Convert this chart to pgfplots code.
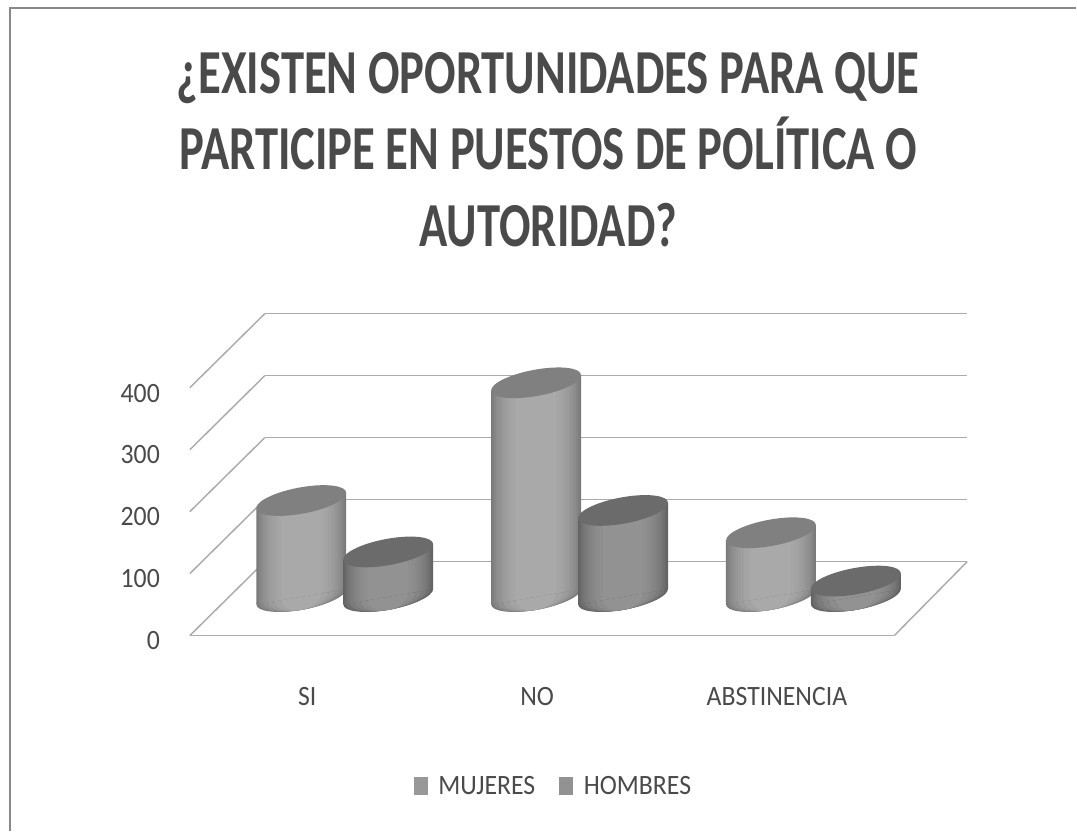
\documentclass[border=0pt]{standalone}
\usepackage{pgfplots}
\pgfplotsset{compat=1.18}
\usepackage{fontspec}
\setmainfont{Carlito}
\newfontfamily\titlefont[FakeStretch=0.745]{Carlito}
\newfontfamily\labfont[FakeStretch=0.92]{Carlito}
\definecolor{txt}{HTML}{4A4A4A}
\definecolor{gridc}{HTML}{ABABAB}
\definecolor{mEdge}{HTML}{7A7A7A}
\definecolor{mMid}{HTML}{A9A9A9}
\definecolor{mTop}{HTML}{808080}
\definecolor{hEdge}{HTML}{636363}
\definecolor{hMid}{HTML}{929292}
\definecolor{hTop}{HTML}{6B6B6B}
% 1 px = 0.75 pt; ellipses sheared with slope 0.17
\newcommand{\declell}[2]{\pgfdeclareplotmark{#1}{\pgfpathellipse{\pgfpointorigin}{\pgfpoint{#2pt}{0.17*#2pt}}{\pgfqpoint{0pt}{10pt}}\pgfusepathqfill}}
\declell{E90}{33.75}
\declell{E84}{31.5}
\declell{E76}{28.5}
\declell{E66}{24.75}
\declell{E54}{20.25}
\declell{E40}{15}
\pgfplotsset{cylpos/.style 2 args={xshift=#2*0.75pt,yshift=29.25pt,
    xshift={(#1+0.5)*176.25pt},yslant=0.17,xshift={-(#1+0.5)*176.25pt}},
  sqlegend/.style={legend image code/.code={\fill[##1] (0pt,-6.75pt) rectangle (10.5pt,6.75pt);}}}
% shade layers of a cylinder: category, value, offset px, prefix, width px, percent of mid colour
\newcommand{\layE}[6]{%
  \addplot[forget plot,only marks,mark=E#5,mark options={fill=#4Mid!#6!#4Edge,draw=none},xshift=#3*0.75pt,yshift=29.25pt] coordinates {(#1,0)};
}
\newcommand{\layB}[6]{%
  \addplot[forget plot,ybar,bar width=#5*0.75pt,bar shift=0pt,draw=none,fill=#4Mid!#6!#4Edge,cylpos={#1}{#3}] coordinates {(#1,#2)};
}
\newcommand{\cyl}[4]{%
  \layE{#1}{#2}{#3}{#4}{90}{0}
  \layE{#1}{#2}{#3}{#4}{84}{25}
  \layE{#1}{#2}{#3}{#4}{76}{50}
  \layE{#1}{#2}{#3}{#4}{66}{70}
  \layE{#1}{#2}{#3}{#4}{54}{88}
  \layE{#1}{#2}{#3}{#4}{40}{100}
  \layB{#1}{#2}{#3}{#4}{90}{0}
  \layB{#1}{#2}{#3}{#4}{87}{13}
  \layB{#1}{#2}{#3}{#4}{84}{25}
  \layB{#1}{#2}{#3}{#4}{80}{38}
  \layB{#1}{#2}{#3}{#4}{76}{50}
  \layB{#1}{#2}{#3}{#4}{71}{60}
  \layB{#1}{#2}{#3}{#4}{66}{70}
  \layB{#1}{#2}{#3}{#4}{60}{79}
  \layB{#1}{#2}{#3}{#4}{54}{88}
  \layB{#1}{#2}{#3}{#4}{47}{94}
  \layB{#1}{#2}{#3}{#4}{40}{100}
  \addplot[forget plot,only marks,mark=E90,mark options={fill=#4Top,draw=none},xshift=#3*0.75pt,yshift=29.25pt] coordinates {(#1,#2)};
}
\newcommand{\gl}[4]{\addplot[forget plot,gridc,line width=1.1pt] coordinates {(#1,#2)(#3,#4)};}
\begin{document}
\begin{tikzpicture}
\begin{axis}[
  scale only axis,width=583.5pt,height=240pt,
  xmin=-0.5,xmax=2.8106,ymin=0,ymax=516.13,
  clip=false,clip mode=individual,axis line style={draw=none},
  tick style={draw=none},
  xtick={0,1,2},xticklabels={SI,\kern-7.5pt NO,ABSTINENCIA},
  ytick={0,100,200,300,400},
  /pgf/number format/assume math mode=true,
  tick label style={font=\labfont\fontsize{21}{24}\selectfont,text=txt},
  xticklabel style={yshift=-35pt},
  yticklabel style={xshift=-19pt,yshift=-4pt},
  title={¿EXISTEN OPORTUNIDADES PARA QUE\\PARTICIPE EN PUESTOS DE POLÍTICA O\\AUTORIDAD?},
  title style={at={(rel axis cs:0.461,1.495)},anchor=center,align=center,text=txt,
    font=\titlefont\fontsize{47}{57.5}\selectfont\bfseries},
  legend columns=2,
  legend style={at={(rel axis cs:0.468,-0.472)},anchor=center,draw=none,fill=none,
    font=\labfont\fontsize{21}{24}\selectfont,text=txt,
    /tikz/every even column/.append style={column sep=16pt}},
  legend cell align=left,
]
% floor and walls
\gl{-0.5}{0}{2.5}{0}
\gl{2.5}{0}{2.8106}{119.4}
\gl{-0.5}{0}{-0.181}{119.4}
\gl{-0.5}{100}{-0.181}{219.4}
\gl{-0.5}{200}{-0.181}{319.4}
\gl{-0.5}{300}{-0.181}{419.4}
\gl{-0.5}{400}{-0.181}{519.4}
\gl{-0.181}{119.4}{2.8106}{119.4}
\gl{-0.181}{219.4}{2.8106}{219.4}
\gl{-0.181}{319.4}{2.8106}{319.4}
\gl{-0.181}{419.4}{2.8106}{419.4}
\gl{-0.181}{519.4}{2.8106}{519.4}
% MUJERES / HOMBRES
\cyl{0}{155}{-6}{m}
\cyl{0}{72}{81}{h}
\cyl{1}{345}{-6}{m}
\cyl{1}{139}{81}{h}
\cyl{2}{103}{-6}{m}
\cyl{2}{25}{79}{h}
\addlegendimage{sqlegend,fill=mMid!90!black,draw=none}
\addlegendentry{\kern6pt MUJERES}
\addlegendimage{sqlegend,fill=hMid,draw=none}
\addlegendentry{\kern6pt HOMBRES}
\end{axis}
\draw[gridc!80!black,line width=1.2pt] (-135pt,-147pt) -- (-135pt,471pt) -- (665.25pt,471pt);
\path[use as bounding box] (-142.5pt,-147pt) rectangle +(807.75pt,624pt);
\end{tikzpicture}
\end{document}
